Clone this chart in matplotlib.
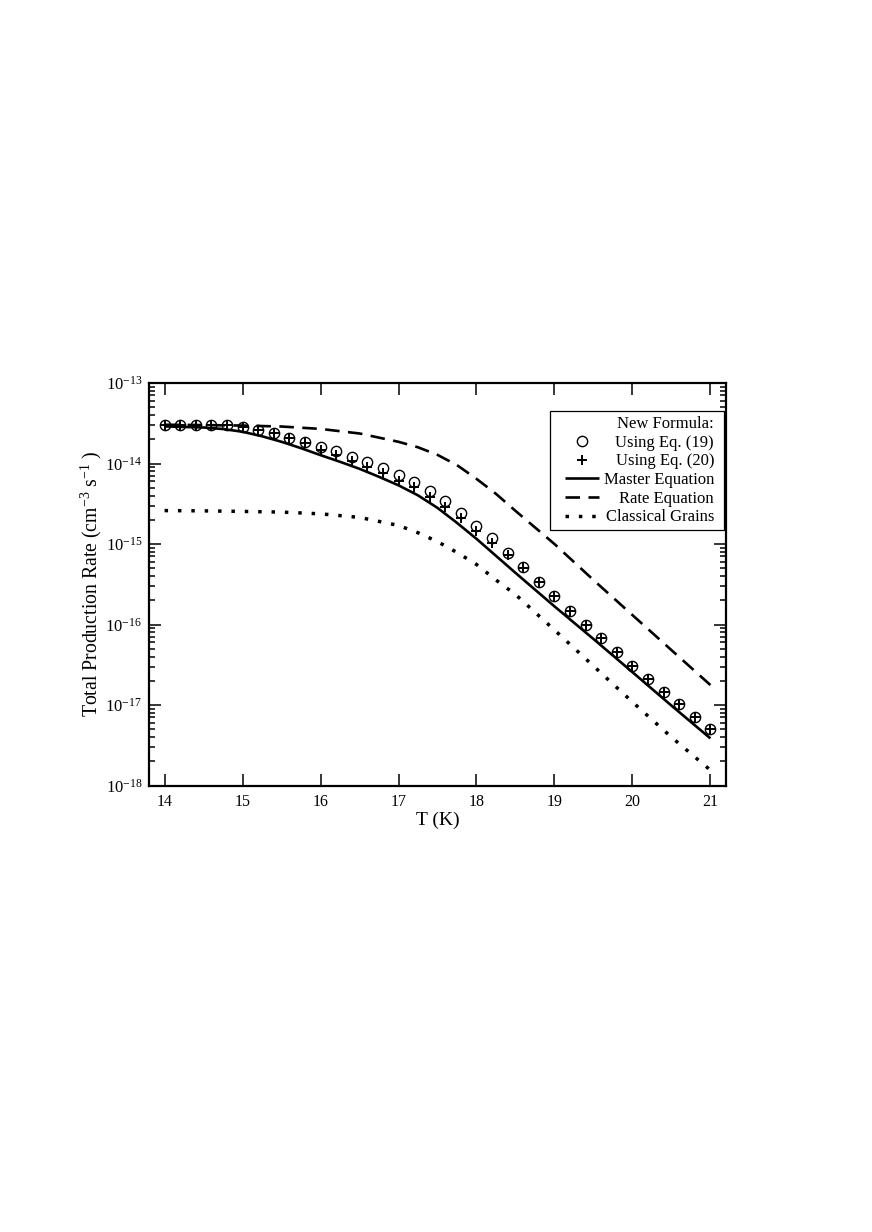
import numpy as np
import matplotlib
matplotlib.use("Agg")
import matplotlib.pyplot as plt
from matplotlib.lines import Line2D
from matplotlib.patches import Rectangle
from matplotlib.ticker import LogLocator, LogFormatterMathtext, FixedLocator, NullLocator

plt.rcParams['font.family'] = ['Liberation Serif', 'DejaVu Serif']
plt.rcParams['mathtext.fontset'] = 'custom'
plt.rcParams['mathtext.rm'] = 'Liberation Serif'
plt.rcParams['mathtext.it'] = 'Liberation Serif:italic'
plt.rcParams['mathtext.bf'] = 'Liberation Serif:bold'

# ---- data ----
T_markers = [14.0, 14.2, 14.4, 14.6, 14.8, 15.0, 15.2, 15.4, 15.6, 15.8,
             16.0, 16.2, 16.4, 16.6, 16.8, 17.0, 17.2, 17.4, 17.6, 17.8,
             18.0, 18.2, 18.4, 18.6, 18.8, 19.0, 19.2, 19.4, 19.6, 19.8,
             20.0, 20.2, 20.4, 20.6, 20.8, 21.0]
eq19 = [3.03e-14, 3.03e-14, 3.03e-14, 3.03e-14, 3.03e-14, 2.86e-14, 2.62e-14, 2.39e-14, 2.10e-14, 1.86e-14,
        1.61e-14, 1.41e-14, 1.21e-14, 1.03e-14, 8.77e-15, 7.23e-15, 5.97e-15, 4.57e-15, 3.44e-15, 2.46e-15,
        1.68e-15, 1.18e-15, 7.82e-16, 5.19e-16, 3.38e-16, 2.26e-16, 1.49e-16, 9.86e-17, 6.73e-17, 4.51e-17,
        3.08e-17, 2.10e-17, 1.44e-17, 1.03e-17, 7.13e-18, 4.98e-18]
eq20 = [3.03e-14, 3.03e-14, 3.03e-14, 3.03e-14, 3.03e-14, 2.86e-14, 2.62e-14, 2.37e-14, 2.06e-14, 1.78e-14,
        1.48e-14, 1.28e-14, 1.08e-14, 8.99e-15, 7.60e-15, 6.14e-15, 5.07e-15, 3.85e-15, 2.89e-15, 2.13e-15,
        1.47e-15, 1.04e-15, 7.31e-16, 5.08e-16, 3.38e-16, 2.26e-16, 1.49e-16, 9.86e-17, 6.73e-17, 4.51e-17,
        3.08e-17, 2.10e-17, 1.44e-17, 1.03e-17, 7.13e-18, 4.98e-18]

T_master = [14.0, 14.5, 14.75, 15.0, 15.25, 15.5, 15.75, 16.0, 16.25, 16.5, 16.75, 17.0,
            17.25, 17.5, 17.75, 18.0, 18.5, 19.0, 19.5, 20.0, 20.5, 21.0]
master = [2.89e-14, 2.80e-14, 2.68e-14, 2.48e-14, 2.18e-14, 1.86e-14, 1.55e-14, 1.27e-14, 1.05e-14, 8.59e-15, 6.83e-15, 5.36e-15,
          4.02e-15, 2.81e-15, 1.83e-15, 1.16e-15, 4.38e-16, 1.68e-16, 6.61e-17, 2.56e-17, 9.84e-18, 3.85e-18]

T_rate = [14.0, 14.5, 15.0, 15.5, 16.0, 16.5, 17.0, 17.25, 17.5, 17.75, 18.0,
          18.25, 18.5, 19.0, 19.5, 20.0, 20.5, 21.0]
rate = [3.03e-14, 3.00e-14, 2.96e-14, 2.88e-14, 2.69e-14, 2.36e-14, 1.86e-14, 1.59e-14, 1.28e-14, 9.55e-15, 6.45e-15,
        4.20e-15, 2.58e-15, 1.00e-15, 3.57e-16, 1.31e-16, 4.81e-17, 1.77e-17]

T_class = [14.0, 14.5, 15.0, 15.5, 16.0, 16.5, 17.0, 17.25, 17.5, 17.75, 18.0,
           18.25, 18.5, 19.0, 19.5, 20.0, 20.5, 21.0]
classical = [2.60e-15, 2.58e-15, 2.54e-15, 2.49e-15, 2.37e-15, 2.14e-15, 1.70e-15, 1.38e-15, 1.07e-15, 7.85e-16, 5.57e-16,
             3.57e-16, 2.36e-16, 8.55e-17, 3.05e-17, 1.09e-17, 3.99e-18, 1.55e-18]

x_ticks = [14, 15, 16, 17, 18, 19, 20, 21]
labels = ["New Formula:", "Using Eq. (19)", "Using Eq. (20)",
          "Master Equation", "Rate Equation", "Classical Grains"]

# ---- figure ----
W, H = 872, 1232
fig = plt.figure(figsize=(W / 100, H / 100), dpi=100)
ax = fig.add_axes([149 / W, (H - 785.5) / H, (726 - 149) / W, (785.5 - 383) / H])

lw = 1.9
l_master, = ax.plot(T_master, master, color='black', lw=lw, solid_capstyle='butt', zorder=2)
l_rate, = ax.plot(T_rate, rate, color='black', lw=lw, linestyle=(0, (5.5, 3.2)), zorder=2)
l_class, = ax.plot(T_class, classical, color='black', lw=2.5, linestyle=(0, (1.0, 2.85)), zorder=2)
m19, = ax.plot(T_markers, eq19, linestyle='none', marker='o', ms=7.4, mfc='none',
               mec='black', mew=1.0, zorder=3)
m20, = ax.plot(T_markers, eq20, linestyle='none', marker='+', ms=7.0,
               mec='black', mew=1.4, zorder=4)

ax.set_yscale('log')
ax.set_xlim(13.8, 21.2)
ax.set_ylim(1e-18, 1e-13)

ax.xaxis.set_major_locator(FixedLocator(x_ticks))
ax.xaxis.set_minor_locator(NullLocator())
ax.yaxis.set_major_locator(LogLocator(base=10, numticks=10))
ax.yaxis.set_minor_locator(LogLocator(base=10, subs=np.arange(2, 10), numticks=10))
ax.yaxis.set_major_formatter(LogFormatterMathtext())

for s in ax.spines.values():
    s.set_linewidth(1.6)
ax.tick_params(which='both', direction='in', top=True, right=True, width=1.1, colors='black')
ax.tick_params(which='major', length=8.5)
ax.tick_params(which='minor', length=4.3)
ax.tick_params(axis='x', labelsize=11.5, pad=6)
ax.tick_params(axis='y', labelsize=12, pad=5)

ax.set_xlabel('T (K)', fontsize=14, labelpad=1)
ax.set_ylabel(r'Total Production Rate (cm$^{-3}$ s$^{-1}$ )', fontsize=14.2, labelpad=1)

empty = Line2D([], [], linestyle='none')
leg = ax.legend([empty, m19, m20, l_master, l_rate, l_class], labels,
                loc='upper right', bbox_to_anchor=((714 - 149) / 577, (785.5 - 416) / 402.5),
                borderaxespad=0, frameon=False, fontsize=12, handlelength=2.0,
                handletextpad=0.3, labelspacing=0.16, borderpad=0.0, numpoints=1)
leg.set_zorder(6)

# right-align legend texts (Grace style) and draw the frame
fig.canvas.draw()
texts = leg.get_texts()
exts = [t.get_window_extent() for t in texts]
xr = max(e.x1 for e in exts)
for t, e in zip(texts, exts):
    t.set_alpha(0)
    fig.text(xr / fig.bbox.width, e.y0 / fig.bbox.height, t.get_text(),
             ha='right', va='bottom', fontsize=t.get_fontsize(), zorder=10)
lb = leg.get_window_extent()
x0, x1 = lb.x0 - 15, xr + 10
y0, y1 = lb.y0 - 5, lb.y1 + 5
frame = Rectangle((x0 / W, y0 / H), (x1 - x0) / W, (y1 - y0) / H,
                  transform=fig.transFigure, fill=True, facecolor='white',
                  edgecolor='black', lw=0.9, zorder=5, clip_on=False)
ax.add_artist(frame)

fig.savefig('out.png', dpi=100)
